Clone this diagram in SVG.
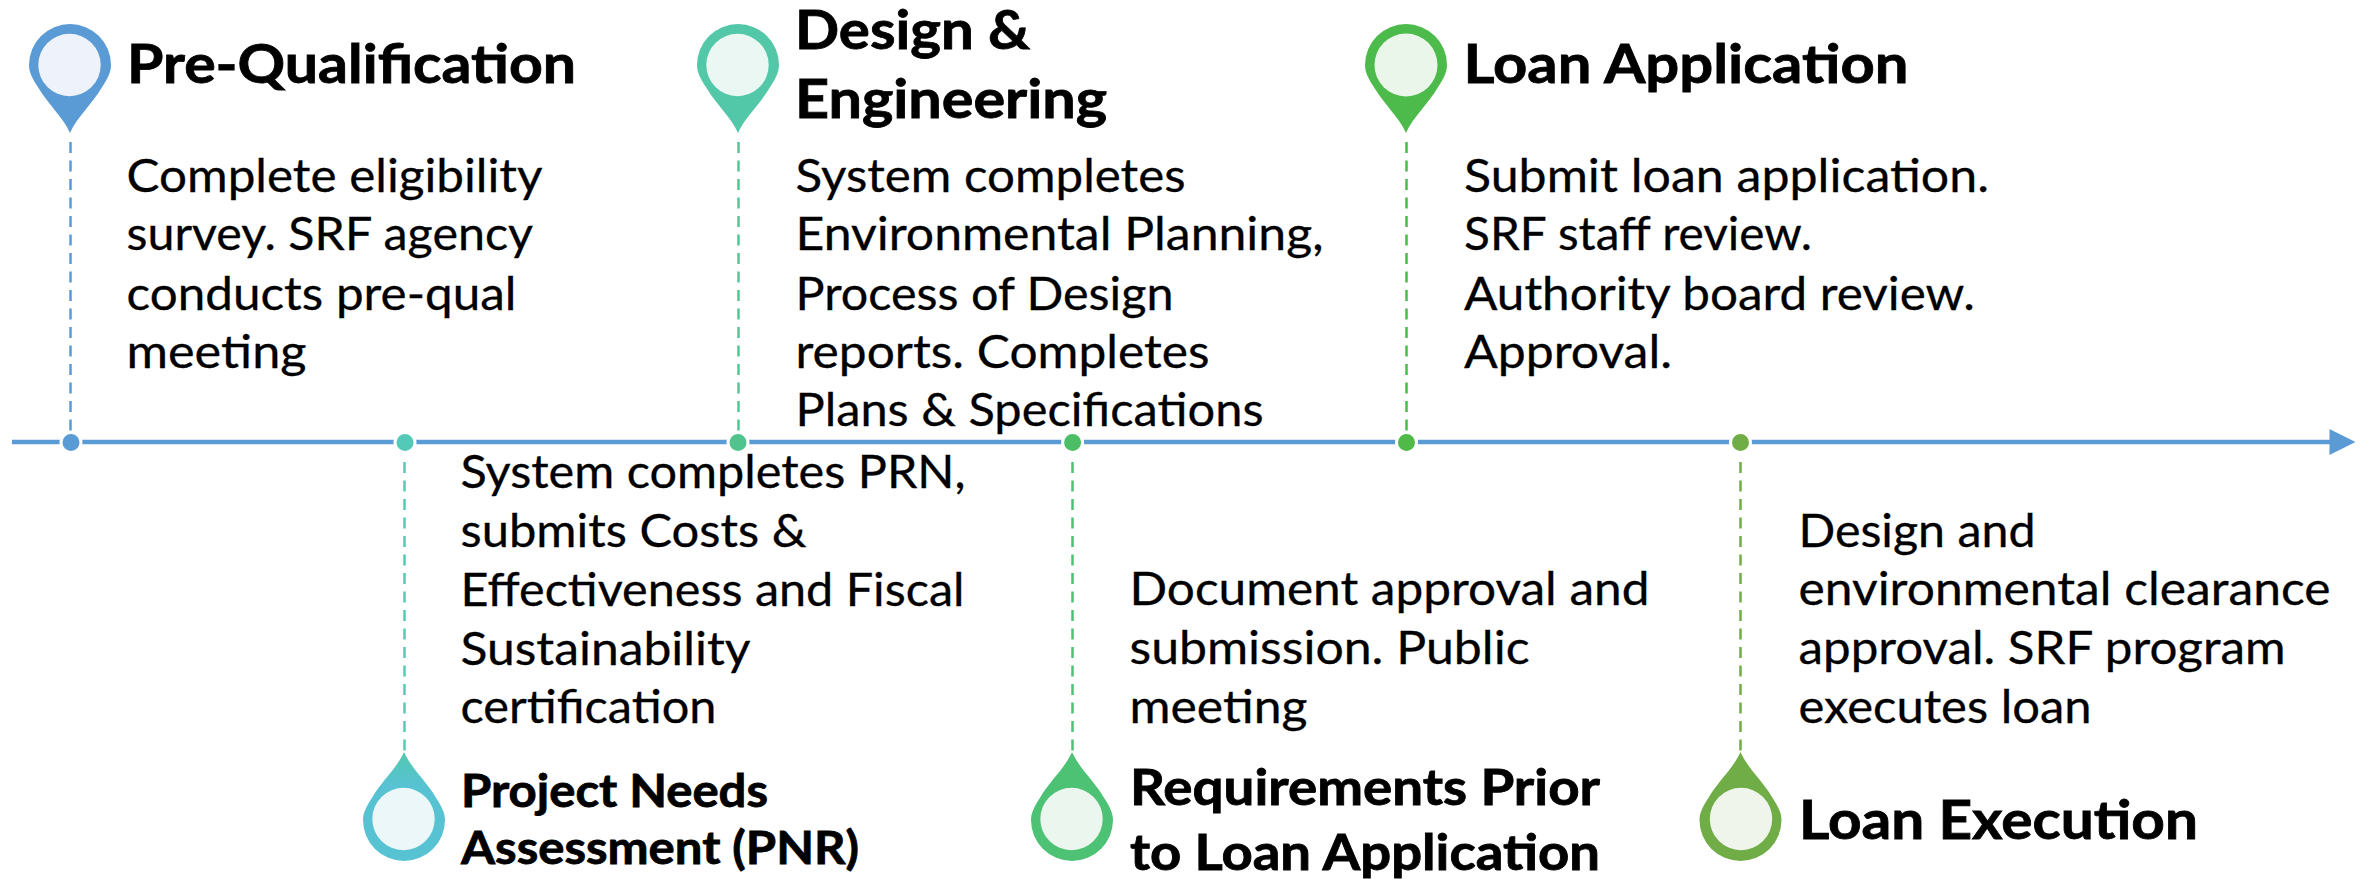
<svg xmlns="http://www.w3.org/2000/svg" width="2367" height="879" viewBox="0 0 2367 879">
<style>
text{font-family:Lato,"Liberation Sans",sans-serif;fill:#000;stroke:#000}
.b{font-size:45.5px;stroke-width:.3}
.t{font-size:54px;font-weight:700;stroke-width:.8}
.r{font-size:49px;font-weight:700;stroke-width:.8}
.s{font-size:46px;font-weight:700;stroke-width:.8}
.d{stroke-width:2.5;stroke-dasharray:11 7.5;fill:none}
.i{stroke:#fff;stroke-width:3}
</style>
<defs>
<path id="pin" d="M0 68C-7 52-23 38-31.500 23C-38 13-41 7-41 0A41 41 0 0 1 41 0C41 7 38 13 31.500 23C23 38 7 52 0 68Z"/>
<linearGradient id="g2" x1="0" y1="1" x2="0" y2="0">
<stop offset="0" stop-color="#52C9AE"/><stop offset=".3" stop-color="#57C2D2"/>
</linearGradient>
</defs>
<rect width="2367" height="879" fill="#fff"/>
<g id="connectors">
<line x1="12" y1="442" x2="2332" y2="442" stroke="#5B9BD5" stroke-width="4.500"/>
<path d="M2329.500 429L2355.500 442L2329.500 455Z" fill="#5B9BD5"/>
<line class="d" x1="70.500" y1="142" x2="70.500" y2="433" stroke="#5B9BD5"/>
<line class="d" x1="404.500" y1="462" x2="404.500" y2="753" stroke="#55C9B8"/>
<line class="d" x1="738.500" y1="142" x2="738.500" y2="433" stroke="#52C896"/>
<line class="d" x1="1072.500" y1="462" x2="1072.500" y2="753" stroke="#4DC274"/>
<line class="d" x1="1406.500" y1="142" x2="1406.500" y2="433" stroke="#4DBB4B"/>
<line class="d" x1="1740.500" y1="462" x2="1740.500" y2="753" stroke="#70AD47"/>
</g>
<g id="n1">
<circle class="i" cx="71" cy="442.500" r="10" fill="#5B9BD5"/>
<use href="#pin" transform="translate(70 65)" fill="#5B9BD5"/>
<circle cx="69.500" cy="65" r="31.200" fill="#EEF3FB"/>
<text class="t" x="127" y="83" textLength="449" lengthAdjust="spacingAndGlyphs">Pre-Qualification</text>
<text class="b" x="126.500" y="192" textLength="416" lengthAdjust="spacingAndGlyphs">Complete eligibility</text>
<text class="b" x="126.500" y="250" textLength="406.500" lengthAdjust="spacingAndGlyphs">survey. SRF agency</text>
<text class="b" x="126.500" y="310" textLength="390" lengthAdjust="spacingAndGlyphs">conducts pre-qual</text>
<text class="b" x="126.500" y="368" textLength="180" lengthAdjust="spacingAndGlyphs">meeting</text>
</g>
<g id="n2">
<circle class="i" cx="405" cy="442.500" r="10" fill="#55C9B8"/>
<use href="#pin" transform="translate(404 820) scale(1 -1)" fill="url(#g2)"/>
<circle cx="403.500" cy="819" r="31.200" fill="#EBF7F9"/>
<text class="s" x="461" y="807" textLength="307" lengthAdjust="spacingAndGlyphs">Project Needs</text>
<text class="s" x="461" y="864" textLength="398" lengthAdjust="spacingAndGlyphs">Assessment (PNR)</text>
<text class="b" x="460.500" y="488" textLength="505" lengthAdjust="spacingAndGlyphs">System completes PRN,</text>
<text class="b" x="460.500" y="547" textLength="346" lengthAdjust="spacingAndGlyphs">submits Costs &amp;</text>
<text class="b" x="460.500" y="606" textLength="504" lengthAdjust="spacingAndGlyphs">Effectiveness and Fiscal</text>
<text class="b" x="460.500" y="665" textLength="290" lengthAdjust="spacingAndGlyphs">Sustainability</text>
<text class="b" x="460.500" y="723" textLength="256" lengthAdjust="spacingAndGlyphs">certification</text>
</g>
<g id="n3">
<circle class="i" cx="738" cy="442.500" r="10" fill="#50C48C"/>
<use href="#pin" transform="translate(738 65)" fill="#52C8A8"/>
<circle cx="737.500" cy="65" r="31.200" fill="#EAF7F3"/>
<text class="t" x="795" y="49" textLength="235" lengthAdjust="spacingAndGlyphs">Design &amp;</text>
<text class="t" x="795" y="118" textLength="312" lengthAdjust="spacingAndGlyphs">Engineering</text>
<text class="b" x="795.500" y="192" textLength="390" lengthAdjust="spacingAndGlyphs">System completes</text>
<text class="b" x="795.500" y="250" textLength="528" lengthAdjust="spacingAndGlyphs">Environmental Planning,</text>
<text class="b" x="795.500" y="310" textLength="378" lengthAdjust="spacingAndGlyphs">Process of Design</text>
<text class="b" x="795.500" y="368" textLength="414" lengthAdjust="spacingAndGlyphs">reports. Completes</text>
<text class="b" x="795.500" y="426" textLength="468" lengthAdjust="spacingAndGlyphs">Plans &amp; Specifications</text>
</g>
<g id="n4">
<circle class="i" cx="1072.600" cy="442.500" r="10" fill="#4CBF66"/>
<use href="#pin" transform="translate(1072 820) scale(1 -1)" fill="#4DC274"/>
<circle cx="1071.500" cy="819" r="31.200" fill="#EAF6EE"/>
<text class="r" x="1130" y="805" textLength="470" lengthAdjust="spacingAndGlyphs">Requirements Prior</text>
<text class="r" x="1130" y="870" textLength="470" lengthAdjust="spacingAndGlyphs">to Loan Application</text>
<text class="b" x="1129.500" y="605" textLength="520" lengthAdjust="spacingAndGlyphs">Document approval and</text>
<text class="b" x="1129.500" y="664" textLength="400" lengthAdjust="spacingAndGlyphs">submission. Public</text>
<text class="b" x="1129.500" y="723" textLength="178" lengthAdjust="spacingAndGlyphs">meeting</text>
</g>
<g id="n5">
<circle class="i" cx="1406.500" cy="442.500" r="10" fill="#50B948"/>
<use href="#pin" transform="translate(1406 65)" fill="#4DBB4B"/>
<circle cx="1406" cy="65" r="31.500" fill="#EAF6EA"/>
<text class="t" x="1463.500" y="83" textLength="445" lengthAdjust="spacingAndGlyphs">Loan Application</text>
<text class="b" x="1464" y="192" textLength="525" lengthAdjust="spacingAndGlyphs">Submit loan application.</text>
<text class="b" x="1464" y="250" textLength="348" lengthAdjust="spacingAndGlyphs">SRF staff review.</text>
<text class="b" x="1464" y="310" textLength="511" lengthAdjust="spacingAndGlyphs">Authority board review.</text>
<text class="b" x="1464" y="368" textLength="208" lengthAdjust="spacingAndGlyphs">Approval.</text>
</g>
<g id="n6">
<circle class="i" cx="1740.500" cy="442.500" r="10" fill="#70AD47"/>
<use href="#pin" transform="translate(1740.500 820) scale(1 -1)" fill="#70AD47"/>
<circle cx="1741" cy="819" r="31.200" fill="#F0F5EC"/>
<text class="t" x="1799" y="839" textLength="399" lengthAdjust="spacingAndGlyphs">Loan Execution</text>
<text class="b" x="1798.500" y="547" textLength="237" lengthAdjust="spacingAndGlyphs">Design and</text>
<text class="b" x="1798.500" y="605" textLength="532" lengthAdjust="spacingAndGlyphs">environmental clearance</text>
<text class="b" x="1798.500" y="664" textLength="487" lengthAdjust="spacingAndGlyphs">approval. SRF program</text>
<text class="b" x="1798.500" y="723" textLength="293" lengthAdjust="spacingAndGlyphs">executes loan</text>
</g>
</svg>
